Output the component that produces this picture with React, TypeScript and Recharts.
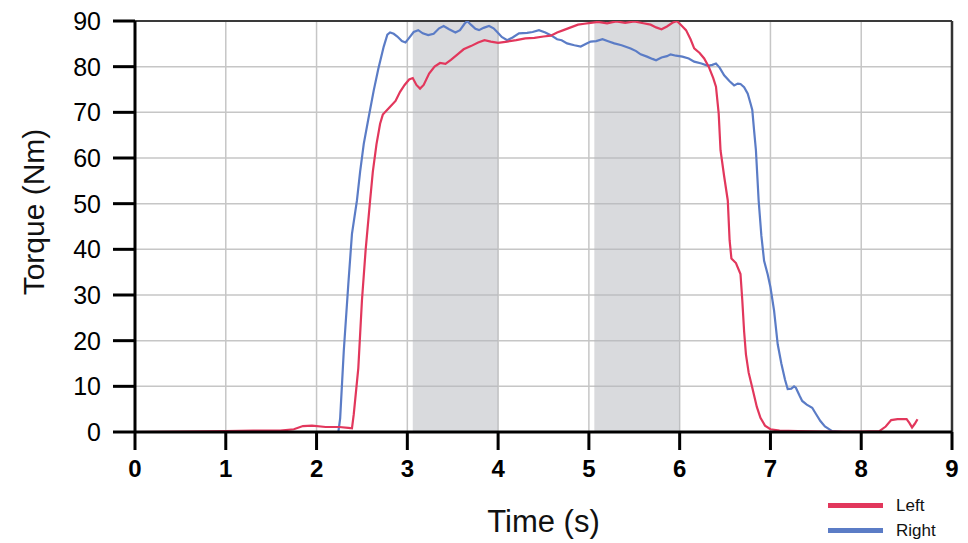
import {
  CartesianGrid,
  Line,
  LineChart,
  ReferenceArea,
  ReferenceLine,
  XAxis,
  YAxis,
} from 'recharts';

const FONT = '"Liberation Sans", Arial, Helvetica, sans-serif';
const RED = '#e2375c';
const BLUE = '#5b7cc6';

const xTicks = [0, 1, 2, 3, 4, 5, 6, 7, 8, 9];
const yTicks = [0, 10, 20, 30, 40, 50, 60, 70, 80, 90];

// shaded windows (s)
const windows = [
  [3.06, 4.0],
  [5.06, 6.0],
];

const leftTime = [
  0, 0.5, 1.0, 1.3, 1.6, 1.75, 1.85, 1.95, 2.1, 2.25, 2.35, 2.39, 2.41, 2.46, 2.5, 2.54, 2.59,
  2.62, 2.66, 2.7, 2.73, 2.8, 2.87, 2.92, 2.97, 3.02, 3.06, 3.1, 3.14, 3.18, 3.24, 3.3, 3.36,
  3.42, 3.48, 3.56, 3.62, 3.7, 3.78, 3.85, 3.92, 4.0, 4.1, 4.2, 4.3, 4.4, 4.5, 4.58, 4.65,
  4.72, 4.8, 4.88, 4.95, 5.02, 5.1, 5.2, 5.3, 5.4, 5.5, 5.6, 5.68, 5.74, 5.8, 5.86, 5.92, 5.97,
  6.02, 6.07, 6.12, 6.16, 6.22, 6.27, 6.32, 6.37, 6.4, 6.43, 6.45, 6.49, 6.53, 6.55, 6.57,
  6.62, 6.67, 6.69, 6.71, 6.73, 6.76, 6.8, 6.85, 6.89, 6.94, 7.0, 7.1, 7.3, 7.6, 8.0, 8.2,
  8.27, 8.33, 8.4, 8.5, 8.53, 8.56, 8.59, 8.62,
];
const leftTorque = [
  0, 0.1, 0.2, 0.3, 0.3, 0.6, 1.3, 1.4, 1.1, 1.1, 0.9, 0.8, 3.9, 14, 28.8, 39.7, 50.7,
  57, 63, 67.5, 69.5, 71, 72.5, 74.5, 76, 77.2, 77.5, 76, 75.2, 76, 78.5, 80, 80.8,
  80.6, 81.5, 82.8, 83.8, 84.5, 85.3, 85.8, 85.5, 85.2, 85.5, 85.8, 86.2, 86.3, 86.6, 86.8, 87.5,
  88, 88.6, 89.2, 89.4, 89.6, 89.8, 89.5, 89.9, 89.6, 89.9, 89.5, 89.2, 88.6, 88.2, 88.8, 89.6, 90,
  89, 88, 86, 84, 83, 81.8, 80, 77.5, 75.6, 69.7, 61.7, 56, 50.7, 42, 38,
  37, 34.6, 28.8, 22, 17, 13, 9.7, 5.5, 3.1, 1.4, 0.6, 0.3, 0.2, 0.1, 0.1, 0.2,
  1.2, 2.6, 2.8, 2.8, 2.0, 1.0, 1.8, 2.8,
];

const rightTime = [
  2.24, 2.26, 2.3, 2.35, 2.39, 2.445, 2.48, 2.52, 2.57, 2.63, 2.68, 2.74, 2.78, 2.81, 2.85,
  2.89, 2.94, 2.98, 3.02, 3.07, 3.12, 3.17, 3.23, 3.29, 3.35, 3.4, 3.46, 3.53, 3.58, 3.63,
  3.66, 3.7, 3.75, 3.79, 3.84, 3.9, 3.95, 3.99, 4.04, 4.1, 4.16, 4.23, 4.32, 4.38, 4.45,
  4.52, 4.58, 4.65, 4.7, 4.76, 4.84, 4.91, 4.97, 5.02, 5.08, 5.15, 5.22, 5.28, 5.36, 5.46,
  5.52, 5.57, 5.64, 5.7, 5.74, 5.8, 5.86, 5.9, 5.96, 6.03, 6.1, 6.16, 6.24, 6.31, 6.36,
  6.4, 6.44, 6.49, 6.55, 6.6, 6.64, 6.67, 6.71, 6.75, 6.78, 6.8, 6.82, 6.84, 6.87, 6.9,
  6.93, 6.97, 7.0, 7.04, 7.08, 7.12, 7.16, 7.19, 7.23, 7.26, 7.28, 7.32, 7.35, 7.4, 7.46,
  7.5, 7.55, 7.6, 7.68, 7.8, 8.1,
];
const rightTorque = [
  0, 3, 17.8, 32.4, 43.4, 50.7, 57, 63.1, 68.5, 74.8, 79.5, 84.4, 87, 87.5, 87.2,
  86.6, 85.6, 85.3, 86.3, 87.6, 88, 87.3, 86.9, 87.2, 88.4, 88.9, 88.2, 87.5, 88, 89.4,
  90, 89.2, 88.3, 88, 88.5, 88.9, 88.4, 87.6, 86.5, 85.8, 86.4, 87.3, 87.4, 87.6, 88,
  87.5, 86.9, 86, 85.8, 85.1, 84.7, 84.4, 85, 85.5, 85.6, 86, 85.5, 85.1, 84.7, 84,
  83.4, 82.7, 82.2, 81.7, 81.4, 82, 82.3, 82.7, 82.4, 82.2, 81.8, 81.1, 80.7, 80.2, 80.4,
  80.7, 79.8, 78.1, 76.8, 75.9, 76.3, 76.2, 75.5, 74.1, 72, 70.5, 66, 61.7, 50.7, 43,
  37.5, 34.5, 31.7, 26.6, 19.2, 15, 11.5, 9.4, 9.5, 10, 9.7, 8, 6.8, 6, 5.3,
  4, 2.4, 1.2, 0.2, 0, 0,
];

const leftData = leftTime.map((t, i) => ({ t, v: leftTorque[i] }));
const rightData = rightTime.map((t, i) => ({ t, v: rightTorque[i] }));

function YTitle() {
  return (
    <text
      x={33}
      y={212}
      transform="rotate(-90 33 212)"
      textAnchor="middle"
      dominantBaseline="central"
      fontSize={30}
      fontFamily={FONT}
      fill="#111"
    >
      Torque (Nm)
    </text>
  );
}

function LegendBox() {
  const row = (color: string, label: string, top: number) => (
    <div style={{ position: 'absolute', left: 828, top, display: 'flex', alignItems: 'center' }}>
      <div style={{ width: 55, height: 5, background: color }} />
      <span style={{ marginLeft: 13, fontSize: 17, fontFamily: FONT, color: '#111', lineHeight: '17px' }}>
        {label}
      </span>
    </div>
  );
  return (
    <>
      {row(RED, 'Left', 497)}
      {row(BLUE, 'Right', 522)}
    </>
  );
}

export default function App() {
  return (
    <div style={{ position: 'absolute', left: 0, top: 0, width: 968, height: 543, background: '#fff' }}>
      <LineChart
        width={968}
        height={543}
        margin={{ top: 21, right: 16, left: 0, bottom: 0 }}
      >
        {windows.map(([a, b], i) => (
          <ReferenceArea
            key={i}
            x1={a}
            x2={b}
            y1={0}
            y2={90}
            fill="#b3b6bb"
            fillOpacity={0.5}
            stroke="none"
            ifOverflow="hidden"
          />
        ))}
        <CartesianGrid stroke="#c6c6c6" strokeWidth={1.5} />
        <XAxis
          type="number"
          dataKey="t"
          domain={[0, 9]}
          ticks={xTicks}
          allowDataOverflow
          height={111}
          axisLine={{ stroke: '#000', strokeWidth: 3 }}
          tickLine={{ stroke: '#000', strokeWidth: 3 }}
          tickSize={18}
          tickMargin={10}
          tick={{ fill: '#000', fontSize: 24, fontWeight: 700, fontFamily: FONT }}
          label={{
            value: 'Time (s)',
            position: 'insideBottom',
            offset: 11,
            style: { fontSize: 31, fontFamily: FONT, fill: '#111' },
          }}
        />
        <YAxis
          type="number"
          domain={[0, 90]}
          ticks={yTicks}
          allowDataOverflow
          width={135}
          axisLine={{ stroke: '#000', strokeWidth: 3 }}
          tickLine={{ stroke: '#000', strokeWidth: 3 }}
          tickSize={22}
          tickMargin={12}
          tick={{ fill: '#000', fontSize: 25, fontFamily: FONT }}
          label={{ content: () => <YTitle /> }}
        />
        <ReferenceLine y={90} stroke="#3a3a3a" strokeWidth={2} />
        <ReferenceLine x={9} stroke="#333" strokeWidth={2.5} />
        <Line
          data={rightData}
          dataKey="v"
          type="linear"
          stroke={BLUE}
          strokeWidth={2.2}
          dot={false}
          isAnimationActive={false}
        />
        <Line
          data={leftData}
          dataKey="v"
          type="linear"
          stroke={RED}
          strokeWidth={2.2}
          dot={false}
          isAnimationActive={false}
        />
      </LineChart>
      <LegendBox />
    </div>
  );
}
